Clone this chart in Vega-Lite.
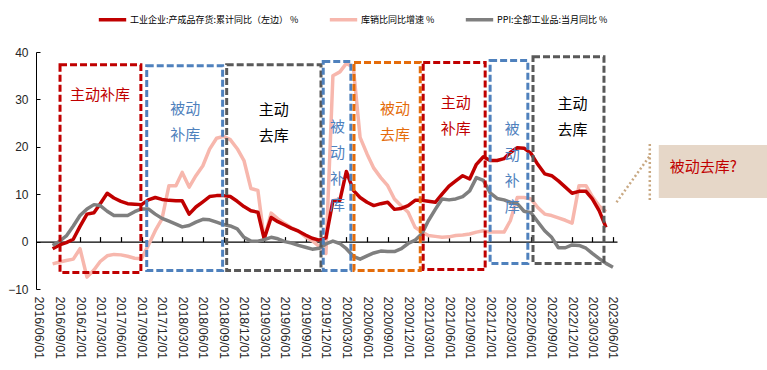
{
  "$schema": "https://vega.github.io/schema/vega-lite/v6.json",
  "width": 581,
  "height": 237,
  "padding": {"left": 36, "top": 52, "right": 150, "bottom": 81},
  "autosize": {"type": "none"},
  "background": "#ffffff",
  "config": {
    "view": {"stroke": null},
    "axis": {"grid": false, "title": null},
    "legend": {"title": null, "padding": 0}
  },
  "datasets": {
    "s": [
      {"d":"2016-08-01","a":-1.5,"b":-4.7,"c":-0.8},
      {"d":"2016-09-01","a":-0.7,"b":-4.3,"c":0.1},
      {"d":"2016-10-01","a":-0.2,"b":-4.0,"c":1.2},
      {"d":"2016-11-01","a":0.5,"b":-3.7,"c":3.3},
      {"d":"2016-12-01","a":3.2,"b":-1.5,"c":5.5},
      {"d":"2017-01-01","a":5.8,"b":-7.5,"c":6.9},
      {"d":"2017-02-01","a":6.1,"b":-6.0,"c":7.8},
      {"d":"2017-03-01","a":8.0,"b":-4.2,"c":7.6},
      {"d":"2017-04-01","a":10.2,"b":-3.0,"c":6.4},
      {"d":"2017-05-01","a":9.2,"b":-2.7,"c":5.5},
      {"d":"2017-06-01","a":8.5,"b":-2.8,"c":5.5},
      {"d":"2017-07-01","a":8.0,"b":-3.1,"c":5.5},
      {"d":"2017-08-01","a":7.9,"b":-3.5,"c":6.3},
      {"d":"2017-09-01","a":7.8,"b":-3.6,"c":6.9},
      {"d":"2017-10-01","a":8.8,"b":-0.8,"c":6.9},
      {"d":"2017-11-01","a":9.3,"b":2.3,"c":5.8},
      {"d":"2017-12-01","a":8.9,"b":4.8,"c":4.9},
      {"d":"2018-01-01","a":8.7,"b":11.8,"c":4.3},
      {"d":"2018-02-01","a":8.6,"b":11.8,"c":3.7},
      {"d":"2018-03-01","a":8.6,"b":14.6,"c":3.1},
      {"d":"2018-04-01","a":5.8,"b":11.5,"c":3.4},
      {"d":"2018-05-01","a":7.3,"b":13.9,"c":4.1},
      {"d":"2018-06-01","a":8.4,"b":16.0,"c":4.7},
      {"d":"2018-07-01","a":9.5,"b":19.5,"c":4.6},
      {"d":"2018-08-01","a":9.7,"b":21.8,"c":4.1},
      {"d":"2018-09-01","a":9.7,"b":22.2,"c":3.6},
      {"d":"2018-10-01","a":9.5,"b":21.5,"c":3.3},
      {"d":"2018-11-01","a":8.5,"b":19.6,"c":2.7},
      {"d":"2018-12-01","a":7.4,"b":17.1,"c":0.9},
      {"d":"2019-01-01","a":6.5,"b":11.2,"c":0.1},
      {"d":"2019-02-01","a":6.2,"b":10.8,"c":0.1},
      {"d":"2019-03-01","a":0.6,"b":0.6,"c":0.4},
      {"d":"2019-04-01","a":5.1,"b":6.0,"c":0.9},
      {"d":"2019-05-01","a":4.2,"b":4.8,"c":0.6},
      {"d":"2019-06-01","a":3.5,"b":3.8,"c":0.0},
      {"d":"2019-07-01","a":2.8,"b":2.9,"c":-0.3},
      {"d":"2019-08-01","a":2.2,"b":2.2,"c":-0.8},
      {"d":"2019-09-01","a":1.4,"b":1.0,"c":-1.2},
      {"d":"2019-10-01","a":0.7,"b":0.2,"c":-1.6},
      {"d":"2019-11-01","a":0.3,"b":-1.0,"c":-1.4},
      {"d":"2019-12-01","a":0.8,"b":-2.5,"c":-0.5},
      {"d":"2020-01-01","a":8.6,"b":35.0,"c":0.1},
      {"d":"2020-02-01","a":8.7,"b":35.8,"c":-0.4},
      {"d":"2020-03-01","a":14.8,"b":37.6,"c":-1.5},
      {"d":"2020-04-01","a":10.8,"b":36.8,"c":-3.1},
      {"d":"2020-05-01","a":9.3,"b":22.0,"c":-3.7},
      {"d":"2020-06-01","a":8.3,"b":18.5,"c":-3.0},
      {"d":"2020-07-01","a":7.6,"b":15.5,"c":-2.4},
      {"d":"2020-08-01","a":8.0,"b":13.5,"c":-2.0},
      {"d":"2020-09-01","a":8.3,"b":11.8,"c":-2.1},
      {"d":"2020-10-01","a":6.8,"b":9.0,"c":-2.1},
      {"d":"2020-11-01","a":7.0,"b":7.5,"c":-1.5},
      {"d":"2020-12-01","a":7.6,"b":6.2,"c":-0.4},
      {"d":"2021-01-01","a":8.7,"b":3.0,"c":0.3},
      {"d":"2021-02-01","a":8.7,"b":2.0,"c":1.7},
      {"d":"2021-03-01","a":8.5,"b":1.3,"c":4.4},
      {"d":"2021-04-01","a":8.3,"b":1.1,"c":6.8},
      {"d":"2021-05-01","a":10.0,"b":0.9,"c":9.0},
      {"d":"2021-06-01","a":11.7,"b":1.0,"c":8.8},
      {"d":"2021-07-01","a":12.8,"b":1.3,"c":9.0},
      {"d":"2021-08-01","a":13.9,"b":1.4,"c":9.5},
      {"d":"2021-09-01","a":13.2,"b":1.6,"c":10.7},
      {"d":"2021-10-01","a":16.3,"b":2.0,"c":13.5},
      {"d":"2021-11-01","a":17.9,"b":2.3,"c":12.9},
      {"d":"2021-12-01","a":17.1,"b":2.0,"c":10.3},
      {"d":"2022-01-01","a":17.1,"b":2.0,"c":9.1},
      {"d":"2022-02-01","a":17.5,"b":2.0,"c":8.8},
      {"d":"2022-03-01","a":18.8,"b":4.4,"c":8.3},
      {"d":"2022-04-01","a":19.8,"b":9.3,"c":8.0},
      {"d":"2022-05-01","a":19.7,"b":9.3,"c":6.4},
      {"d":"2022-06-01","a":18.6,"b":9.0,"c":6.1},
      {"d":"2022-07-01","a":16.3,"b":7.2,"c":4.2},
      {"d":"2022-08-01","a":14.3,"b":5.8,"c":2.3},
      {"d":"2022-09-01","a":13.9,"b":5.5,"c":0.9},
      {"d":"2022-10-01","a":12.8,"b":5.0,"c":-1.3},
      {"d":"2022-11-01","a":11.5,"b":4.5,"c":-1.3},
      {"d":"2022-12-01","a":10.2,"b":3.9,"c":-0.7},
      {"d":"2023-01-01","a":10.6,"b":11.8,"c":-0.8},
      {"d":"2023-02-01","a":10.6,"b":11.8,"c":-1.4},
      {"d":"2023-03-01","a":9.0,"b":9.5,"c":-2.5},
      {"d":"2023-04-01","a":6.5,"b":7.5,"c":-3.6},
      {"d":"2023-05-01","a":3.0,"b":6.3,"c":-4.6},
      {"d":"2023-06-01","c":-5.4}
    ],
    "boxes": [
      {"x0":"2016-09-03","x1":"2017-08-29","y0":37.3,"y1":-6.5,"kind":"主动补库"},
      {"x0":"2017-09-24","x1":"2018-08-28","y0":37.1,"y1":-6.1,"kind":"被动补库"},
      {"x0":"2018-09-15","x1":"2019-11-09","y0":37.3,"y1":-6.1,"kind":"主动去库"},
      {"x0":"2019-11-19","x1":"2020-03-21","y0":38.0,"y1":-6.1,"kind":"被动补库"},
      {"x0":"2020-04-04","x1":"2021-01-24","y0":37.8,"y1":-6.1,"kind":"被动去库"},
      {"x0":"2021-02-06","x1":"2021-11-09","y0":37.8,"y1":-5.9,"kind":"主动补库"},
      {"x0":"2021-12-01","x1":"2022-05-18","y0":38.2,"y1":-4.6,"kind":"被动补库"},
      {"x0":"2022-06-10","x1":"2023-04-22","y0":39.0,"y1":-4.6,"kind":"主动去库"}
    ],
    "labels": [
      {"t":"主动补库","x":"2017-02-28","y":30.9,"kind":"主动补库"},
      {"t":"被动\n补库","x":"2018-03-15","y":28.0,"kind":"被动补库"},
      {"t":"主动\n去库","x":"2019-04-13","y":27.7,"kind":"主动去库"},
      {"t":"被\n动\n补\n库","x":"2020-01-21","y":24.2,"kind":"被动补库"},
      {"t":"被动\n去库","x":"2020-10-04","y":27.9,"kind":"被动去库"},
      {"t":"主动\n补库","x":"2021-07-01","y":29.3,"kind":"主动补库"},
      {"t":"被\n动\n补\n库","x":"2022-03-10","y":23.8,"kind":"被动补库"},
      {"t":"主动\n去库","x":"2022-12-03","y":29.1,"kind":"主动去库"}
    ],
    "callout": [
      {"x0":"2023-12-22","x1":"2025-06-01","y0":20.4,"y1":9.2}
    ],
    "leader": [
      {"x0":"2023-11-12","x1":"2023-11-12","y0":20.6,"y1":8.8},
      {"x0":"2023-11-09","x1":"2023-06-14","y0":17.9,"y1":8.1}
    ],
    "note": [
      {"t":"被动去库?","x":"2024-02-09","y":15.8}
    ]
  },
  "resolve": {"axis": {"x": "independent"}},
  "layer": [
    {
      "data": {"name": "s"},
      "transform": [{"fold": ["b", "a", "c"], "as": ["key", "value"]}],
      "mark": {"type": "line", "strokeJoin": "round"},
      "encoding": {
        "x": {
          "field": "d", "type": "temporal",
          "scale": {"type": "utc", "domain": [{"year":2016,"month":5,"date":19,"utc":true},{"year":2023,"month":6,"date":19,"utc":true}]},
          "axis": {
            "orient": "bottom", "domain": false, "ticks": false, "tickSize": 0,
            "labelPadding": 7, "labelAngle": 90, "labelFont": "Liberation Sans", "labelFontSize": 12.5,
            "labelColor": "#262626", "labelExpr": "utcFormat(datum.value, '%Y/%m/%d')",
            "labelOverlap": false, "labelFlush": false, "labelBound": false,
            "values": [
              {"year":2016,"month":6,"date":1,"utc":true},{"year":2016,"month":9,"date":1,"utc":true},{"year":2016,"month":12,"date":1,"utc":true},
              {"year":2017,"month":3,"date":1,"utc":true},{"year":2017,"month":6,"date":1,"utc":true},{"year":2017,"month":9,"date":1,"utc":true},{"year":2017,"month":12,"date":1,"utc":true},
              {"year":2018,"month":3,"date":1,"utc":true},{"year":2018,"month":6,"date":1,"utc":true},{"year":2018,"month":9,"date":1,"utc":true},{"year":2018,"month":12,"date":1,"utc":true},
              {"year":2019,"month":3,"date":1,"utc":true},{"year":2019,"month":6,"date":1,"utc":true},{"year":2019,"month":9,"date":1,"utc":true},{"year":2019,"month":12,"date":1,"utc":true},
              {"year":2020,"month":3,"date":1,"utc":true},{"year":2020,"month":6,"date":1,"utc":true},{"year":2020,"month":9,"date":1,"utc":true},{"year":2020,"month":12,"date":1,"utc":true},
              {"year":2021,"month":3,"date":1,"utc":true},{"year":2021,"month":6,"date":1,"utc":true},{"year":2021,"month":9,"date":1,"utc":true},{"year":2021,"month":12,"date":1,"utc":true},
              {"year":2022,"month":3,"date":1,"utc":true},{"year":2022,"month":6,"date":1,"utc":true},{"year":2022,"month":9,"date":1,"utc":true},{"year":2022,"month":12,"date":1,"utc":true},
              {"year":2023,"month":3,"date":1,"utc":true},{"year":2023,"month":6,"date":1,"utc":true}
            ]
          }
        },
        "y": {
          "field": "value", "type": "quantitative",
          "scale": {"domain": [-10, 40], "nice": false, "zero": false},
          "axis": {
            "values": [-10,-5,0,5,10,15,20,25,30,35,40],
            "domainColor": "#000000", "tickColor": "#000000", "tickSize": -4, "labelPadding": 12,
            "labelFont": "Liberation Sans", "labelFontSize": 12, "labelColor": "#262626"
          }
        },
        "color": {
          "field": "key", "type": "nominal",
          "scale": {"domain": ["a", "b", "c"], "range": ["#C00000", "#F7B7AD", "#7F7F7F"]},
          "legend": {
            "orient": "none", "legendX": 61, "legendY": -48, "direction": "horizontal",
            "symbolType": "stroke", "symbolSize": 750, "labelFont": "Noto Sans CJK SC", "labelFontSize": 9,
            "labelColor": "#000000", "columnPadding": 23, "labelOffset": 2, "labelLimit": 300,
            "labelExpr": "datum.label == 'a' ? '工业企业:产成品存货:累计同比（左边） %' : datum.label == 'b' ? '库销比同比增速 %' : 'PPI:全部工业品:当月同比 %'"
          }
        },
        "strokeWidth": {
          "field": "key", "type": "nominal",
          "scale": {"domain": ["a", "b", "c"], "range": [3.5, 3.5, 2.2]}
        }
      }
    },
    {
      "data": {"name": "boxes"},
      "mark": {"type": "rect", "fillOpacity": 0, "strokeWidth": 3, "strokeDash": [7, 3]},
      "encoding": {
        "x": {
          "field": "x0", "type": "temporal",
          "scale": {"type": "utc", "domain": [{"year":2016,"month":5,"date":19,"utc":true},{"year":2023,"month":6,"date":19,"utc":true}]},
          "axis": {
            "orient": "top", "offset": -189.6, "labels": false, "domain": true, "ticks": true, "tickSize": 5,
            "domainColor": "#000000", "tickColor": "#000000", "domainWidth": 1.2, "tickWidth": 1.2,
            "values": [
              {"year":2016,"month":9,"date":1,"utc":true},{"year":2016,"month":12,"date":1,"utc":true},
              {"year":2017,"month":3,"date":1,"utc":true},{"year":2017,"month":6,"date":1,"utc":true},{"year":2017,"month":9,"date":1,"utc":true},{"year":2017,"month":12,"date":1,"utc":true},
              {"year":2018,"month":3,"date":1,"utc":true},{"year":2018,"month":6,"date":1,"utc":true},{"year":2018,"month":9,"date":1,"utc":true},{"year":2018,"month":12,"date":1,"utc":true},
              {"year":2019,"month":3,"date":1,"utc":true},{"year":2019,"month":6,"date":1,"utc":true},{"year":2019,"month":9,"date":1,"utc":true},{"year":2019,"month":12,"date":1,"utc":true},
              {"year":2020,"month":3,"date":1,"utc":true},{"year":2020,"month":6,"date":1,"utc":true},{"year":2020,"month":9,"date":1,"utc":true},{"year":2020,"month":12,"date":1,"utc":true},
              {"year":2021,"month":3,"date":1,"utc":true},{"year":2021,"month":6,"date":1,"utc":true},{"year":2021,"month":9,"date":1,"utc":true},{"year":2021,"month":12,"date":1,"utc":true},
              {"year":2022,"month":3,"date":1,"utc":true},{"year":2022,"month":6,"date":1,"utc":true},{"year":2022,"month":9,"date":1,"utc":true},{"year":2022,"month":12,"date":1,"utc":true},
              {"year":2023,"month":3,"date":1,"utc":true},{"year":2023,"month":6,"date":1,"utc":true}
            ]
          }
        },
        "x2": {"field": "x1"},
        "y": {"field": "y0", "type": "quantitative", "scale": {"domain": [-10, 40], "nice": false, "zero": false}},
        "y2": {"field": "y1"},
        "stroke": {
          "field": "kind", "type": "nominal", "legend": null,
          "scale": {"domain": ["主动补库", "被动补库", "主动去库", "被动去库"], "range": ["#C00000", "#4F81BD", "#595959", "#E46C0A"]}
        }
      }
    },
    {
      "data": {"name": "labels"},
      "mark": {"type": "text", "font": "Noto Sans CJK SC", "fontSize": 15, "lineBreak": "\n", "lineHeight": 26, "align": "center", "baseline": "middle"},
      "encoding": {
        "x": {"field": "x", "type": "temporal", "axis": null, "scale": {"type": "utc", "domain": [{"year":2016,"month":5,"date":19,"utc":true},{"year":2023,"month":6,"date":19,"utc":true}]}},
        "y": {"field": "y", "type": "quantitative", "scale": {"domain": [-10, 40], "nice": false, "zero": false}},
        "text": {"field": "t"},
        "fill": {
          "field": "kind", "type": "nominal", "legend": null,
          "scale": {"domain": ["主动补库", "被动补库", "主动去库", "被动去库"], "range": ["#C00000", "#4F81BD", "#000000", "#E46C0A"]}
        }
      }
    },
    {
      "data": {"name": "callout"},
      "mark": {"type": "rect", "color": "#E6D7C8"},
      "encoding": {
        "x": {"field": "x0", "type": "temporal", "axis": null, "scale": {"type": "utc", "domain": [{"year":2016,"month":5,"date":19,"utc":true},{"year":2023,"month":6,"date":19,"utc":true}]}},
        "x2": {"field": "x1"},
        "y": {"field": "y0", "type": "quantitative", "scale": {"domain": [-10, 40], "nice": false, "zero": false}},
        "y2": {"field": "y1"}
      }
    },
    {
      "data": {"name": "leader"},
      "mark": {"type": "rule", "color": "#C8A882", "strokeWidth": 2.5, "strokeDash": [2, 2.5]},
      "encoding": {
        "x": {"field": "x0", "type": "temporal", "axis": null, "scale": {"type": "utc", "domain": [{"year":2016,"month":5,"date":19,"utc":true},{"year":2023,"month":6,"date":19,"utc":true}]}},
        "x2": {"field": "x1"},
        "y": {"field": "y0", "type": "quantitative", "scale": {"domain": [-10, 40], "nice": false, "zero": false}},
        "y2": {"field": "y1"}
      }
    },
    {
      "data": {"name": "note"},
      "mark": {"type": "text", "font": "Noto Sans CJK SC", "fontSize": 15, "align": "left", "baseline": "middle", "color": "#C00000"},
      "encoding": {
        "x": {"field": "x", "type": "temporal", "axis": null, "scale": {"type": "utc", "domain": [{"year":2016,"month":5,"date":19,"utc":true},{"year":2023,"month":6,"date":19,"utc":true}]}},
        "y": {"field": "y", "type": "quantitative", "scale": {"domain": [-10, 40], "nice": false, "zero": false}},
        "text": {"field": "t"}
      }
    }
  ]
}
